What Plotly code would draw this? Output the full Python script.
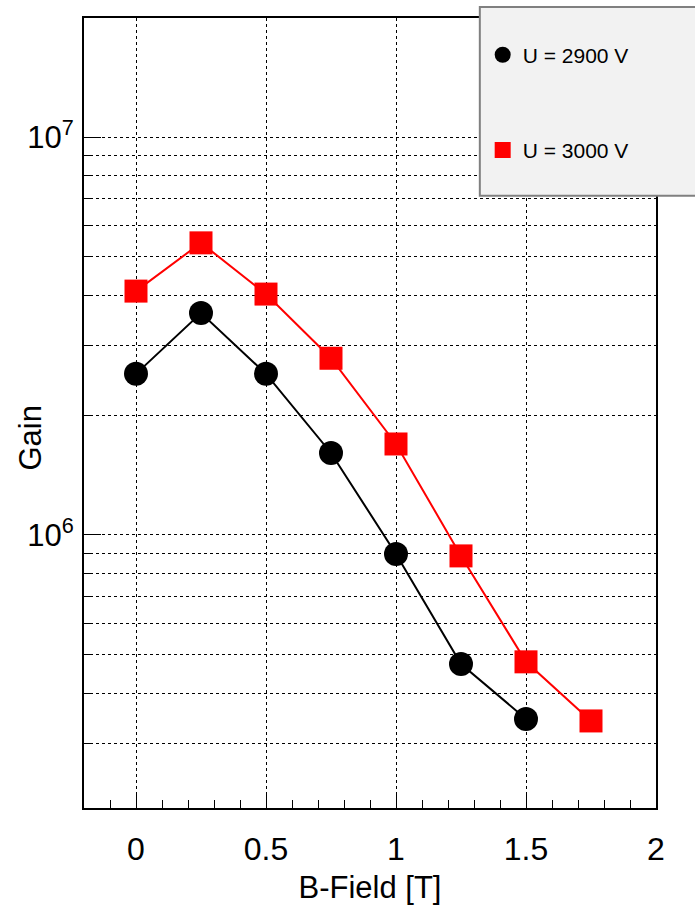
import plotly.graph_objects as go

b_field = [0.0, 0.25, 0.5, 0.75, 1.0, 1.25, 1.5, 1.75]
gain_2900 = [2.54e6, 3.61e6, 2.54e6, 1.607e6, 8.96e5, 4.74e5, 3.45e5]
gain_3000 = [4.10e6, 5.42e6, 4.03e6, 2.78e6, 1.693e6, 8.86e5, 4.80e5, 3.41e5]
label_2900 = "U = 2900 V"
label_3000 = "U = 3000 V"

major_y = [1e6, 1e7]
major_y_text = ["10<sup>6</sup>", "10<sup>7</sup>"]
minor_y = [m * 10 ** e for e in (5, 6, 7) for m in range(2, 10)]
minor_y = [v for v in minor_y if 2e5 <= v <= 2e7]

font = "Liberation Sans, Arial, sans-serif"

fig = go.Figure()
series = [
    (gain_2900, label_2900, "black", "circle", 24, "a"),
    (gain_3000, label_3000, "#ff0000", "square", 23, "b"),
]
for vals, name, col, sym, sz, grp in series:
    xs = b_field[:len(vals)]
    fig.add_trace(go.Scatter(
        x=xs, y=vals, mode="lines", showlegend=False, hoverinfo="skip",
        line=dict(color=col, width=2),
    ))
    fig.add_trace(go.Scatter(
        x=xs, y=vals, name=name, legendgroup=grp, mode="markers",
        marker=dict(symbol=sym, size=sz, color=col),
    ))

fig.update_layout(
    width=695, height=908,
    margin=dict(l=84, r=39, t=18, b=100),
    paper_bgcolor="white", plot_bgcolor="white",
    font=dict(family=font, color="black"),
    showlegend=True,
    legend=dict(
        x=0.697, y=0.979, xanchor="left", yanchor="top",
        bgcolor="rgba(0,0,0,0)", borderwidth=0,
        font=dict(size=21, family=font),
        tracegroupgap=65, traceorder="grouped",
        itemsizing="trace",
    ),
    xaxis=dict(
        range=[-0.2, 2.0], automargin=False,
        tickmode="array", tickvals=[0, 0.5, 1, 1.5, 2], ticktext=["0", "0.5", "1", "1.5", "2"],
        ticks="inside", ticklen=16, tickwidth=1, tickcolor="black",
        showline=True, linecolor="black", linewidth=2, mirror=True,
        showgrid=True, gridcolor="black", griddash="dot", gridwidth=1,
        zeroline=False,
        tickfont=dict(size=32, family=font),
        ticklabelstandoff=12,
        minor=dict(dtick=0.1, tick0=0, ticks="inside", ticklen=8, tickcolor="black", showgrid=False),
        title=dict(text="B-Field [T]", font=dict(size=31, family=font), standoff=10),
    ),
    yaxis=dict(
        type="log", automargin=False,
        range=[5.314, 7.299],
        tickmode="array", tickvals=major_y, ticktext=major_y_text,
        ticks="inside", ticklen=17, tickwidth=1, tickcolor="black",
        showline=True, linecolor="black", linewidth=2, mirror=True,
        showgrid=True, gridcolor="black", griddash="dot", gridwidth=1,
        zeroline=False,
        tickfont=dict(size=31, family=font),
        ticklabelstandoff=2,
        minor=dict(tickmode="array", tickvals=minor_y, ticks="inside", ticklen=9,
                   tickcolor="black", showgrid=True, gridcolor="black", griddash="dot", gridwidth=1),
    ),
    annotations=[dict(
        text="Gain", xref="paper", yref="paper", x=-0.094, y=0.468,
        xanchor="center", yanchor="middle", textangle=-90, showarrow=False,
        font=dict(size=31, family=font, color="black"),
    )],
    shapes=[dict(
        type="rect", xref="paper", yref="paper",
        x0=0.692, x1=1.08, y0=0.775, y1=1.014,
        fillcolor="#f2f2f2", line=dict(color="#808080", width=2), layer="above",
    )],
)

fig.write_html("out.html")
